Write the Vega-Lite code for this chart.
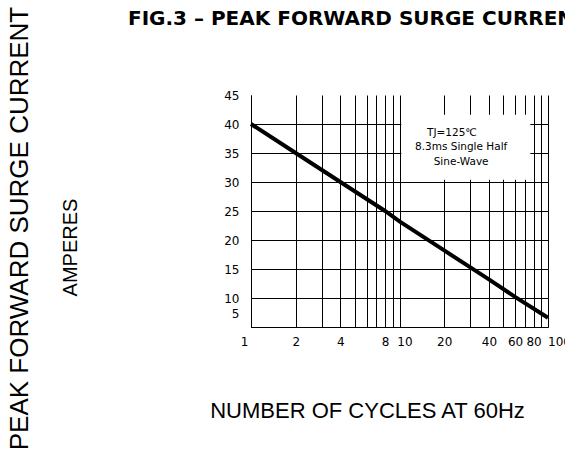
{
  "$schema": "https://vega.github.io/schema/vega-lite/v6.json",
  "width": 297,
  "height": 232,
  "autosize": {"type": "none"},
  "padding": {"left": 251, "top": 95, "right": 17, "bottom": 128},
  "background": "white",
  "config": {"view": {"stroke": null}},
  "title": {
    "text": "FIG.3 – PEAK FORWARD SURGE CURRENT",
    "anchor": "start",
    "frame": "group",
    "dx": -123,
    "dy": 39,
    "offset": 0,
    "baseline": "alphabetic",
    "font": "DejaVu Sans",
    "fontSize": 20,
    "fontWeight": "bold",
    "color": "#000"
  },
  "datasets": {
    "curve": [
      {"cycles": 1, "amps": 40},
      {"cycles": 2, "amps": 35},
      {"cycles": 4, "amps": 30},
      {"cycles": 8, "amps": 25},
      {"cycles": 10, "amps": 23.2},
      {"cycles": 20, "amps": 18.2},
      {"cycles": 40, "amps": 13.2},
      {"cycles": 60, "amps": 10.2},
      {"cycles": 100, "amps": 6.6}
    ],
    "box": [{"x": 10.3, "x2": 76, "y": 30.4, "y2": 41.6}],
    "notes": [
      {"x": 22.6, "y": 38.4, "t": "TJ=125℃"},
      {"x": 26, "y": 36.1, "t": "8.3ms Single Half"},
      {"x": 26, "y": 33.5, "t": "Sine-Wave"}
    ]
  },
  "layer": [
    {
      "data": {"name": "box"},
      "mark": {"type": "rect", "fill": "white", "stroke": null},
      "encoding": {
        "x": {
          "field": "x",
          "type": "quantitative",
          "scale": {"type": "log", "domain": [1, 100]},
          "axis": {
            "values": [1, 2, 3, 4, 5, 6, 7, 8, 9, 10, 20, 30, 40, 50, 60, 70, 80, 90, 100],
            "labelExpr": "indexof([1,2,4,8,10,20,40,60,80,100], datum.value) >= 0 ? toString(datum.value) : ''",
            "grid": true,
            "gridColor": "#000",
            "gridWidth": 1,
            "gridOpacity": 1,
            "ticks": false,
            "domain": true,
            "domainColor": "#000",
            "domainWidth": 1,
            "labelFont": "DejaVu Sans",
            "labelFontSize": 12,
            "labelColor": "#000",
            "labelPadding": 9,
            "labelFlush": false,
            "labelOverlap": false,
            "labelOffset": {
              "condition": [
                {"test": "datum.value === 1", "value": -7},
                {"test": "datum.value === 10", "value": 5},
                {"test": "datum.value === 100", "value": 11}
              ],
              "value": 0
            },
            "title": "NUMBER OF CYCLES AT 60Hz",
            "titleFont": "Liberation Sans",
            "titleFontSize": 22,
            "titleFontWeight": "normal",
            "titleColor": "#000",
            "titleX": 116,
            "titleY": 83,
            "titleAlign": "center",
            "titleBaseline": "middle"
          }
        },
        "x2": {"field": "x2"},
        "y": {
          "field": "y",
          "type": "quantitative",
          "scale": {"domain": [5, 45], "nice": false, "zero": false},
          "axis": {
            "orient": "left",
            "values": [5, 10, 15, 20, 25, 30, 35, 40, 45],
            "grid": true,
            "gridColor": "#000",
            "gridWidth": 1,
            "gridOpacity": {"condition": {"test": "datum.value === 45", "value": 0}, "value": 1},
            "ticks": false,
            "domain": true,
            "domainColor": "#000",
            "domainWidth": 1,
            "labelFont": "DejaVu Sans",
            "labelFontSize": 12,
            "labelColor": "#000",
            "labelPadding": 12,
            "labelOverlap": false,
            "labelOffset": {"condition": {"test": "datum.value === 5", "value": -14}, "value": 0},
            "title": "AMPERES",
            "titleFont": "Liberation Sans",
            "titleFontSize": 20,
            "titleFontWeight": "normal",
            "titleColor": "#000",
            "titleX": -181,
            "titleY": 152,
            "titleAngle": -90,
            "titleAlign": "center",
            "titleBaseline": "middle"
          }
        },
        "y2": {"field": "y2"}
      }
    },
    {
      "data": {"name": "notes"},
      "mark": {"type": "text", "font": "DejaVu Sans", "fontSize": 10.5, "color": "#000", "align": "center", "baseline": "middle"},
      "encoding": {
        "x": {"field": "x", "type": "quantitative"},
        "y": {"field": "y", "type": "quantitative", "axis": null},
        "text": {"field": "t"}
      }
    },
    {
      "data": {"name": "curve"},
      "mark": {"type": "line", "color": "#000", "strokeWidth": 4, "strokeCap": "butt"},
      "encoding": {
        "x": {"field": "cycles", "type": "quantitative"},
        "y": {
          "field": "amps",
          "type": "quantitative",
          "axis": {
            "orient": "left",
            "labels": false,
            "ticks": false,
            "domain": false,
            "grid": false,
            "title": "PEAK FORWARD SURGE CURRENT",
            "titleFont": "Liberation Sans",
            "titleFontSize": 26,
            "titleFontWeight": "normal",
            "titleColor": "#000",
            "titleX": -232,
            "titleY": 133,
            "titleAngle": -90,
            "titleAlign": "center",
            "titleBaseline": "middle"
          }
        }
      }
    }
  ],
  "resolve": {"axis": {"y": "independent"}}
}
